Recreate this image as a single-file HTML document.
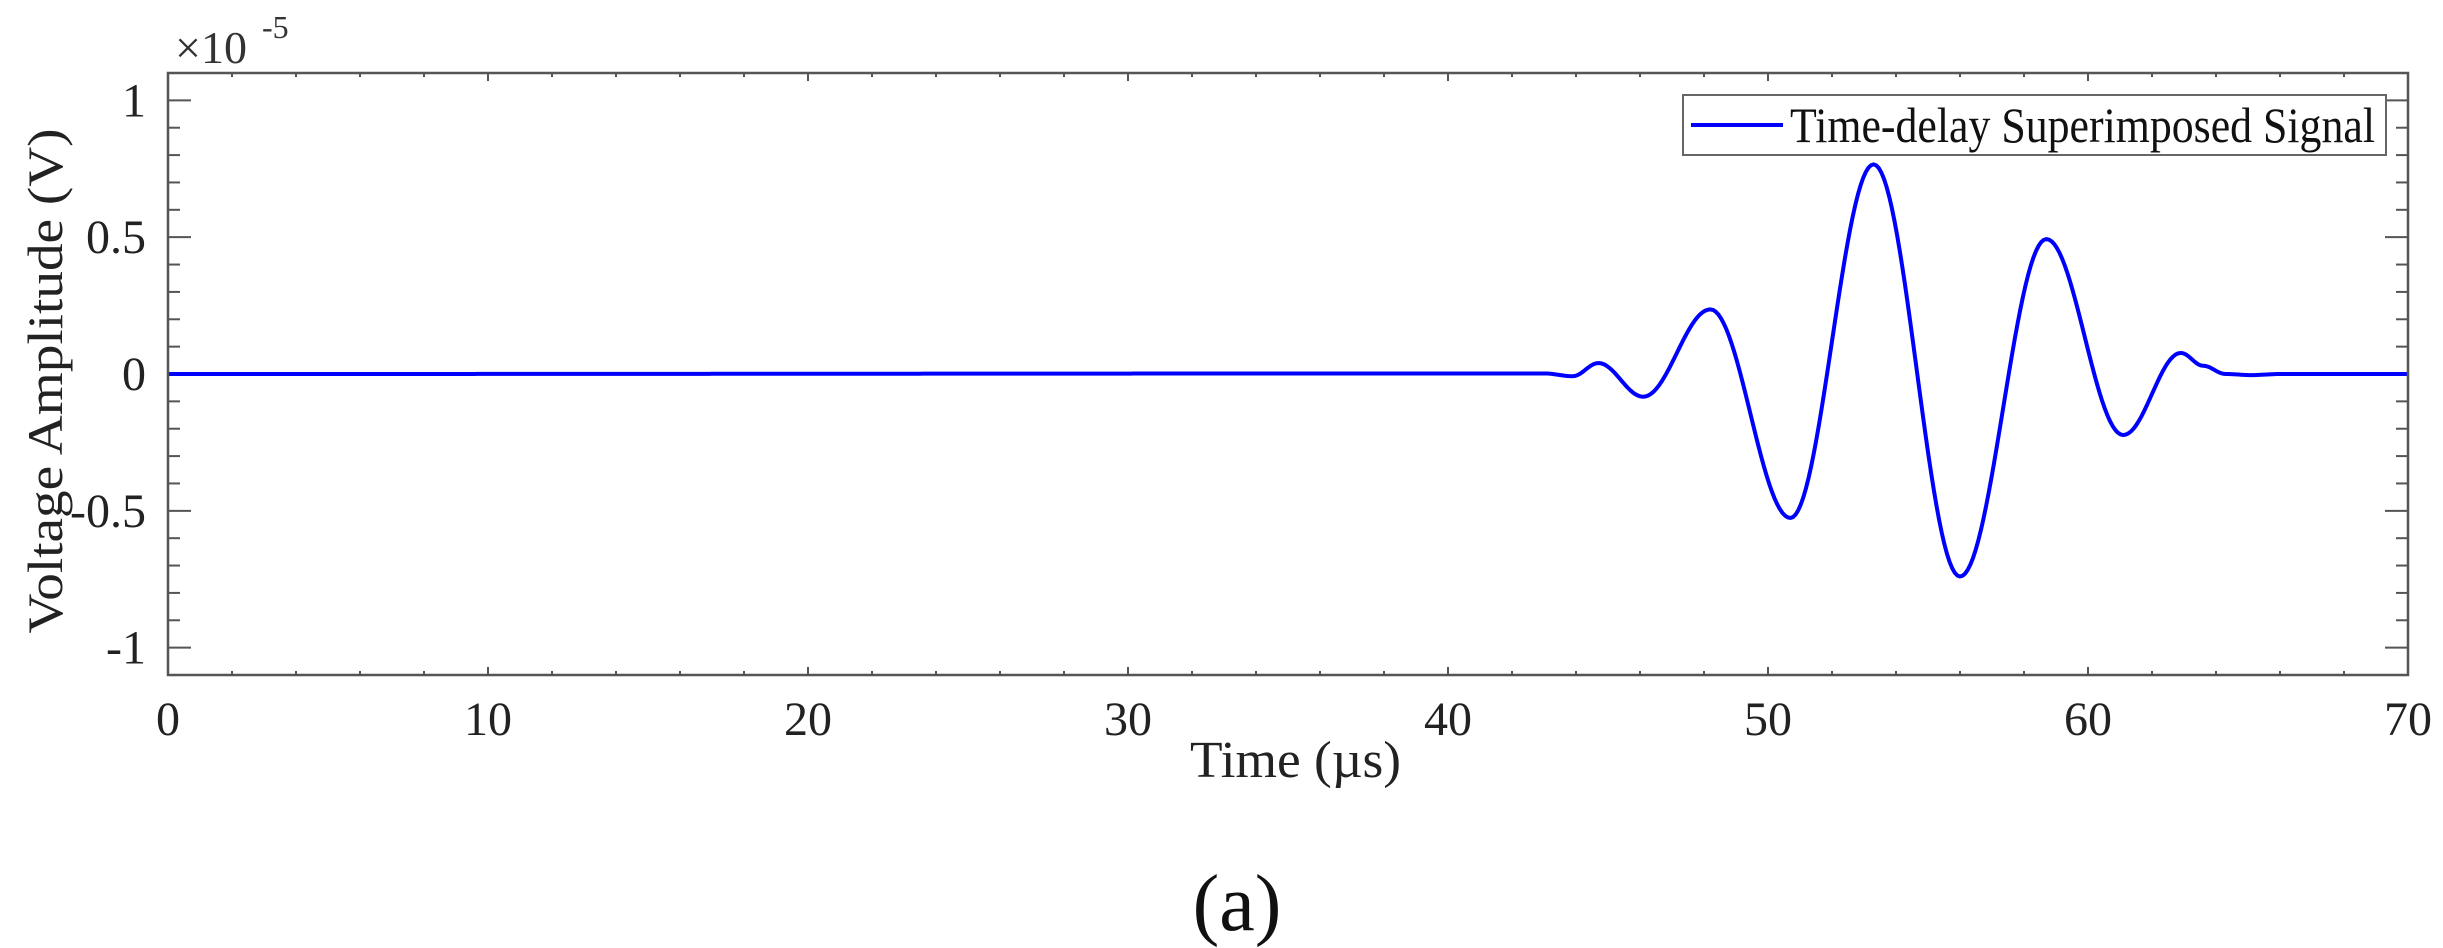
<!DOCTYPE html>
<html><head><meta charset="utf-8"><style>
html,body{margin:0;padding:0;background:#fff;}
svg{display:block;font-family:"Liberation Serif",serif;}
</style></head><body>
<svg id="chart" width="2443" height="948" viewBox="0 0 2443 948">
<rect x="168" y="73" width="2240" height="602" fill="#fff"/>
<g id="grid-ticks"></g>
<path id="signal" fill="none" stroke="#0000ff" stroke-width="4" stroke-linejoin="round"/>
<rect x="168" y="73" width="2240" height="602" fill="none" stroke="#555" stroke-width="2.5"/>
<g id="labels" font-size="48" fill="#222"></g>
<text x="175" y="63" font-size="46" fill="#333">×10</text>
<text x="262" y="38" font-size="32" fill="#333">-5</text>
<text transform="translate(62,381) rotate(-90)" text-anchor="middle" font-size="50" textLength="505" lengthAdjust="spacingAndGlyphs" fill="#222">Voltage Amplitude (V)</text>
<text x="1190" y="777" font-size="52" textLength="211" lengthAdjust="spacingAndGlyphs" fill="#222">Time (µs)</text>
<g>
<rect x="1683" y="95" width="703" height="60" fill="#fff" stroke="#666" stroke-width="2"/>
<line x1="1691" y1="125" x2="1783" y2="125" stroke="#0000ff" stroke-width="4"/>
<text x="1790" y="142" font-size="50" textLength="585" lengthAdjust="spacingAndGlyphs" fill="#111">Time-delay Superimposed Signal</text>
</g>
<text x="1237" y="930" text-anchor="middle" font-size="80" fill="#111">(a)</text>
</svg>
<script>
const times = [0, 43.0, 43.9, 44.7, 46.1, 48.2, 50.7, 53.3, 56.0, 58.7, 61.1, 62.9, 63.6, 64.3, 65.1, 66, 70];
const values = [0, 0.002, -0.008, 0.04, -0.083, 0.236, -0.526, 0.766, -0.74, 0.493, -0.223, 0.077, 0.03, 0, -0.004, 0, 0];
const xTicks = [0, 10, 20, 30, 40, 50, 60, 70];
const yTicks = [-1, -0.5, 0, 0.5, 1];
const yTickLabels = ["-1", "-0.5", "0", "0.5", "1"];

const L = 168, R = 2408, T = 73, B = 675;
const xMin = 0, xMax = 70, yMin = -1.1, yMax = 1.1;
function sx(t){ return L + (t - xMin) / (xMax - xMin) * (R - L); }
function sy(v){ return B - (v - yMin) / (yMax - yMin) * (B - T); }

const NS = "http://www.w3.org/2000/svg";
const tg = document.getElementById('grid-ticks');
const lg = document.getElementById('labels');
function line(x1,y1,x2,y2,name){
  const l = document.createElementNS(NS,'line');
  l.setAttribute('x1',x1); l.setAttribute('y1',y1); l.setAttribute('x2',x2); l.setAttribute('y2',y2);
  l.setAttribute('stroke','#555'); l.setAttribute('stroke-width','2');
  
  
  tg.appendChild(l);
}
for (let t = xMin; t <= xMax + 1e-9; t += 2) {
  const major = Math.abs(t % 10) < 1e-9;
  const len = major ? 8 : 4;
  const x = sx(t);
  line(x, B, x, B - len, 'x-tick');
  line(x, T, x, T + len, 'x-tick-top');
}
for (let i = -10; i <= 10; i++) {
  const v = i / 10;
  const major = i % 5 === 0;
  const len = major ? 23 : 12;
  const y = sy(v);
  line(L, y, L + len, y, 'y-tick');
  line(R, y, R - len, y, 'y-tick-right');
}
xTicks.forEach(t => {
  const tx = document.createElementNS(NS,'text');
  tx.setAttribute('x', sx(t)); tx.setAttribute('y', 735);
  tx.setAttribute('text-anchor','middle');
  tx.textContent = String(t);
  
  
  lg.appendChild(tx);
});
yTicks.forEach((v, i) => {
  const tx = document.createElementNS(NS,'text');
  tx.setAttribute('x', 146); tx.setAttribute('y', sy(v) + 16);
  tx.setAttribute('text-anchor','end');
  tx.textContent = yTickLabels[i];
  
  
  lg.appendChild(tx);
});
// half-cosine interpolation between successive extrema
let d = 'M' + sx(times[0]).toFixed(2) + ',' + sy(values[0]).toFixed(2);
for (let i = 0; i < times.length - 1; i++) {
  const t0 = times[i], t1 = times[i + 1], v0 = values[i], v1 = values[i + 1];
  const n = Math.max(2, Math.ceil((t1 - t0) * 12));
  for (let k = 1; k <= n; k++) {
    const f = k / n;
    const w = (1 - Math.cos(Math.PI * f)) / 2;
    const t = t0 + (t1 - t0) * f;
    const v = v0 + (v1 - v0) * w;
    d += ' L' + sx(t).toFixed(2) + ',' + sy(v).toFixed(2);
  }
}
document.getElementById('signal').setAttribute('d', d);
</script>
</body></html>
